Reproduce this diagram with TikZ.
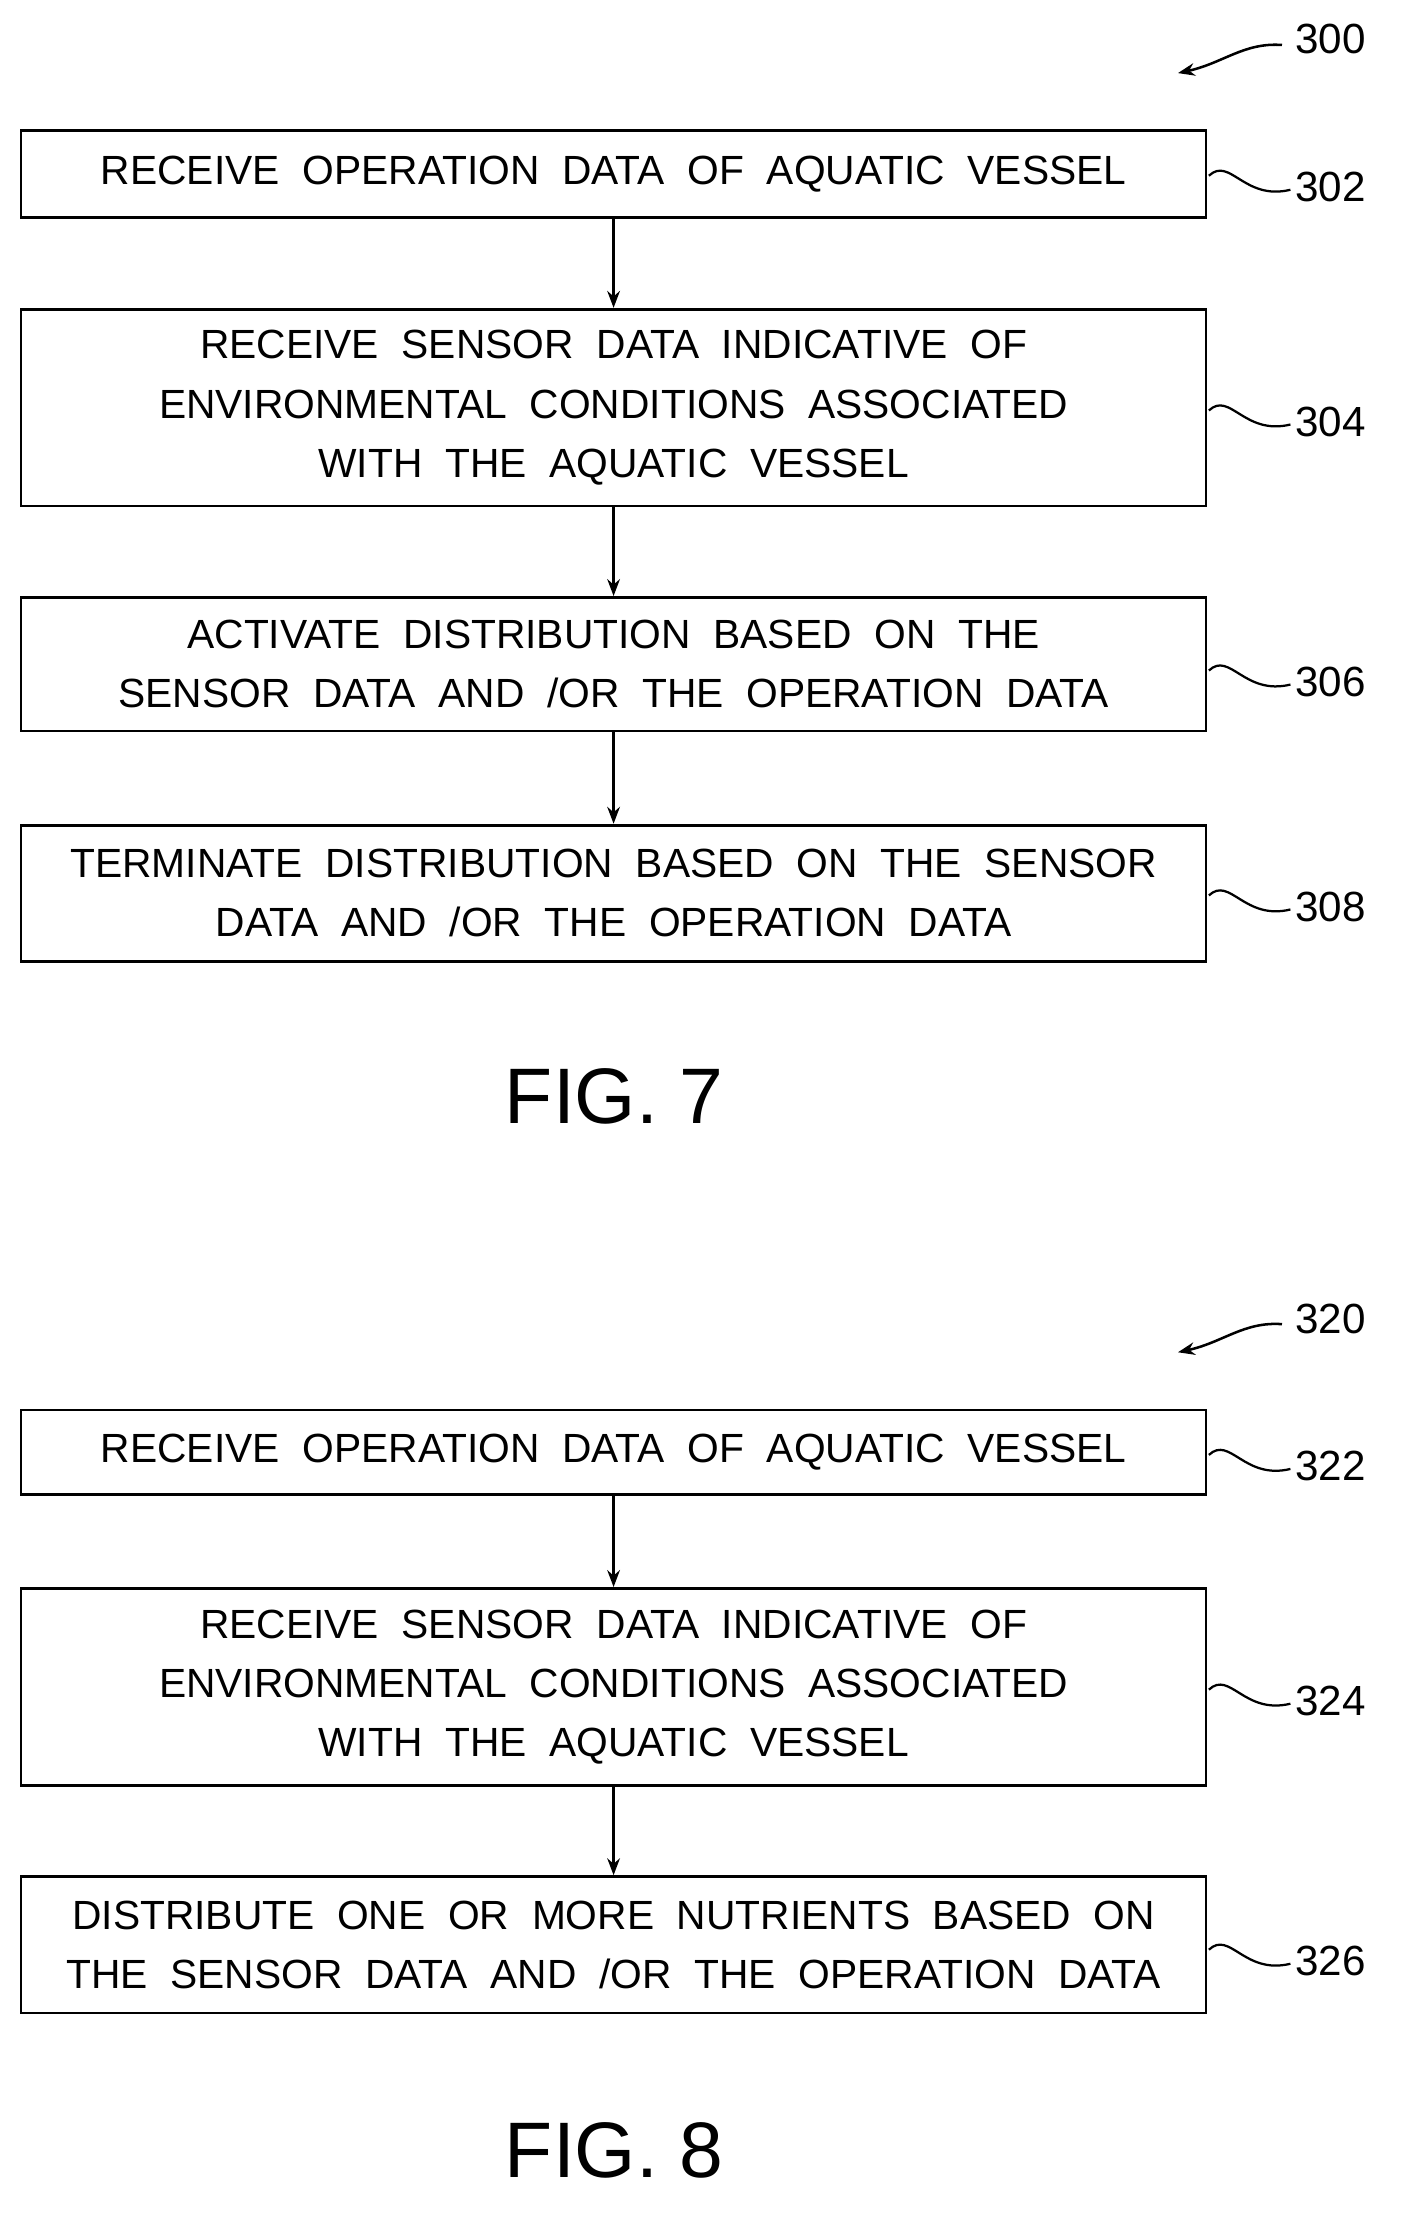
\documentclass[tikz,border=0pt]{standalone}
\usepackage{fontspec}
\setmainfont{Liberation Sans}
\newfontfamily\boxfont[WordSpace=2]{Liberation Sans}
\usetikzlibrary{arrows.meta}
\begin{document}
\begin{tikzpicture}[x=1pt,y=-1pt,
  box/.style={draw,line width=2pt,align=center,font=\boxfont\fontsize{29}{42}\selectfont,inner sep=0pt},
  lbl/.style={font=\fontsize{30}{32}\selectfont,anchor=west},
  arr/.style={-{Stealth[length=12pt,width=9pt]},line width=1.8pt},
  sq/.style={line width=1.6pt},
  fig/.style={font=\fontsize{56}{60}\selectfont}]
\useasboundingbox (0,0) rectangle (1000,1585);
\newcommand{\bx}[4]{\node[box,minimum width=843pt,minimum height=#3pt] (#1) at (436.5,#2) {#4};}
\bx{b302}{124}{62}{RECEIVE OPERATION DATA OF AQUATIC VESSEL}
\bx{b304}{290}{140}{RECEIVE SENSOR DATA INDICATIVE OF\\ENVIRONMENTAL CONDITIONS ASSOCIATED\\WITH THE AQUATIC VESSEL}
\bx{b306}{472.5}{95}{ACTIVATE DISTRIBUTION BASED ON THE\\SENSOR DATA AND /OR THE OPERATION DATA}
\bx{b308}{635.5}{97}{TERMINATE DISTRIBUTION BASED ON THE SENSOR\\DATA AND /OR THE OPERATION DATA}
\bx{b322}{1033}{60}{RECEIVE OPERATION DATA OF AQUATIC VESSEL}
\bx{b324}{1200}{140}{RECEIVE SENSOR DATA INDICATIVE OF\\ENVIRONMENTAL CONDITIONS ASSOCIATED\\WITH THE AQUATIC VESSEL}
\bx{b326}{1383.5}{97}{DISTRIBUTE ONE OR MORE NUTRIENTS BASED ON\\THE SENSOR DATA AND /OR THE OPERATION DATA}
\draw[arr] (b302) -- (b304);
\draw[arr] (b304) -- (b306);
\draw[arr] (b306) -- (b308);
\draw[arr] (b322) -- (b324);
\draw[arr] (b324) -- (b326);
\newcommand{\tag}[3]{\node[lbl] (#1) at (918,#2) {#3};
  \draw[sq] (860,#2-8) .. controls (875,#2-22) and (885,#2+10) .. (918,#2+2);}
\tag{l302}{133}{302}
\tag{l304}{300}{304}
\tag{l306}{485}{306}
\tag{l308}{645}{308}
\tag{l322}{1043}{322}
\tag{l324}{1210}{324}
\tag{l326}{1395}{326}
\node[lbl] (l300) at (918,28) {300};
\node[lbl] (l320) at (918,938) {320};
\coordinate (e300) at (838,52);
\coordinate (e320) at (838,962);
\draw[arr] (912,32) .. controls (885,30) and (870,45) .. (e300);
\draw[arr] (912,942) .. controls (885,940) and (870,955) .. (e320);
\node[fig] (f7) at (437,780) {FIG. 7};
\node[fig] (f8) at (437,1530) {FIG. 8};
\end{tikzpicture}
\end{document}
